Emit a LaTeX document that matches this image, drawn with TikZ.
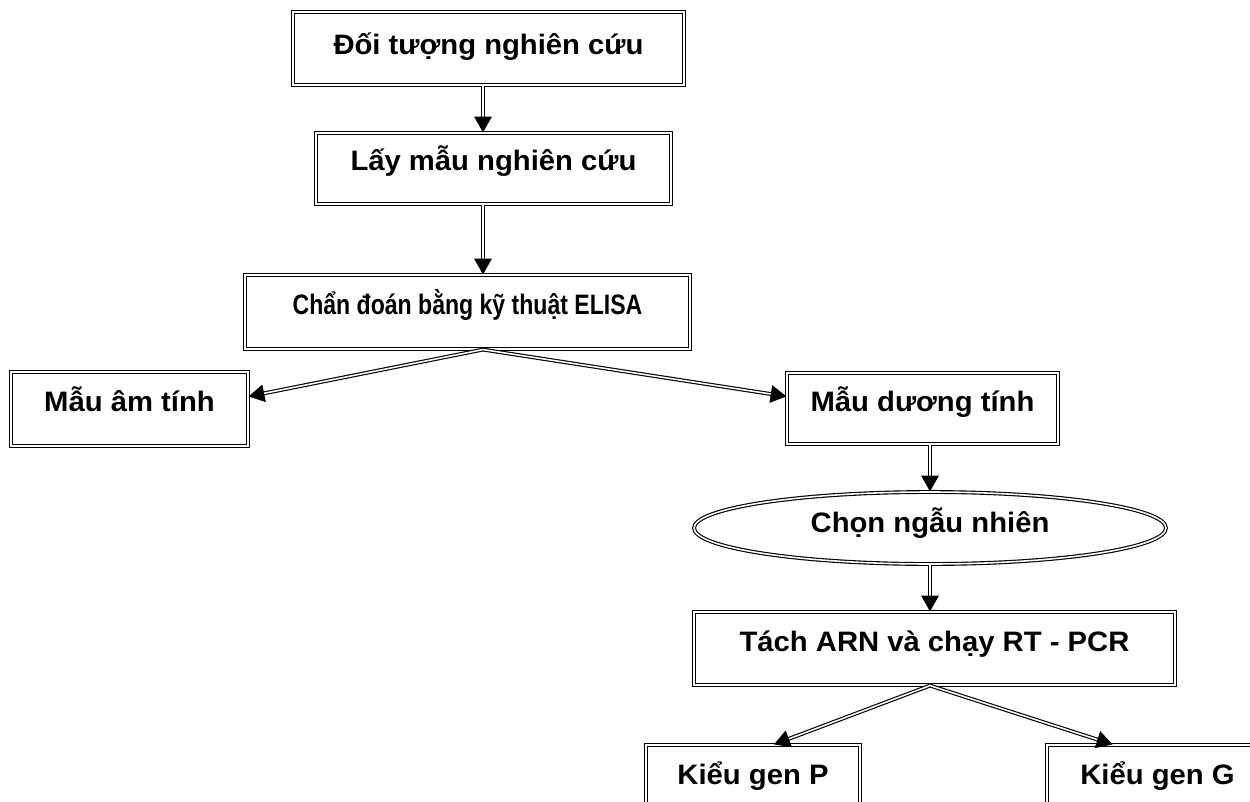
\documentclass[tikz,border=0pt]{standalone}
\usepackage{fontspec}
\setmainfont[FakeStretch=1.04]{Liberation Sans}
\newfontfamily\narrowfont[FakeStretch=0.82]{Liberation Sans}
\usepackage{tikz}
\usetikzlibrary{arrows.meta,positioning,calc,shapes.geometric}
\newlength{\pxu}\setlength{\pxu}{0.02cm}
\tikzset{
  dline/.style={draw=black,line width=0.65pt,double=white,double distance=0.9pt},
  box/.style={dline,fill=white,inner sep=0pt,align=center,font=\fontsize{16}{19}\selectfont\bfseries,text height=39.5\pxu,text depth=34.5\pxu},
  oval/.style={dline,ellipse,inner sep=0pt,font=\fontsize{16}{19}\selectfont\bfseries,text height=14\pxu,text depth=6\pxu},
  arr/.style={dline,-{Triangle[length=9pt,width=10pt]}}}

\begin{document}
\begin{tikzpicture}[x=0.02cm,y=-0.02cm]
\useasboundingbox (0,0) rectangle (1250,801);
\coordinate (spine) at (483,0);
\node[box,minimum width=391\pxu,text height=42\pxu,text depth=31\pxu] (obj) at (488.5,48.5) {Đối tượng nghiên cứu};
\node[box,minimum width=355\pxu,text height=37\pxu,text depth=34\pxu] (sample) at (493.5,168.5) {Lấy mẫu nghiên cứu};
\node[box,minimum width=445\pxu,font=\fontsize{16}{19}\selectfont\bfseries\narrowfont] (elisa) at (467.5,312) {Chẩn đoán bằng kỹ thuật ELISA};
\node[box,minimum width=237\pxu] (neg) at (129.5,409) {Mẫu âm tính};
\node[box,minimum width=271\pxu,text height=38\pxu,text depth=33\pxu] (pos) at (922.5,408.5) {Mẫu dương tính};
\node[oval,minimum width=472\pxu,minimum height=72\pxu] (rand) at (930,528) {Chọn ngẫu nhiên};
\node[box,minimum width=481\pxu,text height=39\pxu,text depth=34\pxu] (rtpcr) at (934.5,648.5) {Tách ARN và chạy RT - PCR};
\node[box,minimum width=214\pxu] (genP) at (753,782) {Kiểu gen P};
\node[box,minimum width=221\pxu] (genG) at (1157.5,782) {Kiểu gen G};
% connectors
\draw[arr] (obj.south -| spine) -- (sample.north -| spine);
\draw[arr] (sample.south -| spine) -- (elisa.north -| spine);
\draw[arr] (elisa.south -| spine) -- ($(neg.north east)+(0,25)$);
\draw[arr] (elisa.south -| spine) -- ($(pos.north west)+(0,24)$);
\draw[arr] (rand.north |- pos.south) -- (rand.north);
\draw[arr] (rand.south) -- (rand.south |- rtpcr.north);
\draw[arr] (rand.south |- rtpcr.south) -- ($(genP.north)+(21,0)$);
\draw[arr] (rand.south |- rtpcr.south) -- ($(genG.north)+(-45,0)$);
\end{tikzpicture}
\end{document}
